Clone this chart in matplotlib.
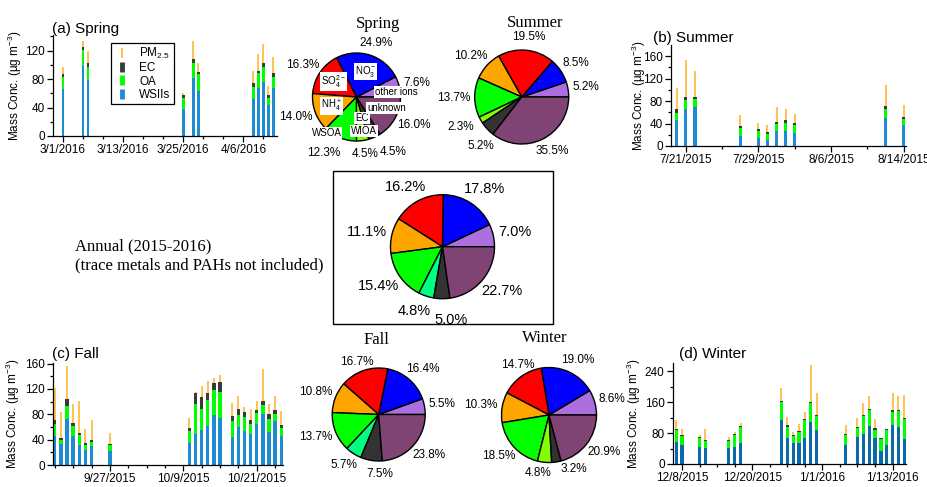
import numpy as np
import pandas as pd
import matplotlib
matplotlib.use('Agg')
import matplotlib.pyplot as plt
import matplotlib.dates as mdates
from matplotlib.lines import Line2D
from matplotlib.patches import Rectangle

plt.rcParams['font.family'] = ['Liberation Sans', 'DejaVu Sans']
plt.rcParams['mathtext.fontset'] = 'custom'
plt.rcParams['mathtext.rm'] = 'Liberation Sans'
plt.rcParams['mathtext.it'] = 'Liberation Sans:italic'
plt.rcParams['mathtext.bf'] = 'Liberation Sans:bold'

# daily mass concentrations (ug m-3)
spring_dates = ['2016-03-01', '2016-03-05', '2016-03-06', '2016-03-25', '2016-03-27', '2016-03-28',
                '2016-04-08', '2016-04-09', '2016-04-10', '2016-04-11', '2016-04-12']
spring_wsii = [66, 98, 79, 38, 81, 63, 52, 67, 76, 43, 67]
spring_oa = [17, 22.5, 18, 15.5, 22, 24, 17, 21, 21, 10.5, 16]
spring_ec = [4, 4.1, 5, 3.5, 5, 3.5, 5, 4, 6, 3.5, 5]
spring_pm = [97, 134, 120, 61, 134, 102.5, 92, 115, 129, 70, 111]
spring_ticks = ['3/1/2016', '3/13/2016', '3/25/2016', '4/6/2016']

summer_dates = ['2015-07-20', '2015-07-21', '2015-07-22', '2015-07-27', '2015-07-29', '2015-07-30',
                '2015-07-31', '2015-08-01', '2015-08-02', '2015-08-12', '2015-08-14']
summer_wsii = [46.4, 66.6, 69.6, 18.4, 14.9, 11.3, 27.4, 27.4, 23.8, 50.6, 36.9]
summer_oa = [12.6, 14.9, 13.7, 13.1, 11.9, 10.7, 11.3, 13.6, 13.1, 14.8, 10.7]
summer_ec = [6.4, 5.4, 4.7, 4.8, 4.2, 3.6, 4.1, 4.8, 4.1, 5.4, 4.2]
summer_pm = [104, 153, 134, 54.7, 41, 38, 69.6, 65.4, 57.7, 108, 72.6]
summer_ticks = ['7/21/2015', '7/29/2015', '8/6/2015', '8/14/2015']

fall_dates = ['2015-09-18', '2015-09-19', '2015-09-20', '2015-09-21', '2015-09-22', '2015-09-23',
              '2015-09-24', '2015-09-27', '2015-10-10', '2015-10-11', '2015-10-12', '2015-10-13',
              '2015-10-14', '2015-10-15', '2015-10-17', '2015-10-18', '2015-10-19', '2015-10-20',
              '2015-10-21', '2015-10-22', '2015-10-23', '2015-10-24', '2015-10-25']
fall_wsii = [46.3, 32.6, 72.6, 45.3, 31, 24.2, 30, 22.6, 34.2, 49, 55.3, 61.6,
             79, 74.7, 44.2, 59.5, 53.7, 49, 64.2, 81, 52, 69.5, 45.3]
fall_oa = [19, 7.4, 20, 15.7, 15.8, 6.8, 5.8, 9.4, 18.8, 47.3, 32.7, 41.4,
           39.4, 40, 24.8, 20, 22.1, 15.7, 17.4, 14.3, 20.6, 10.5, 13.7]
fall_ec = [5.2, 3, 11.1, 4.8, 3.2, 3.7, 3.7, 1.7, 6, 17.7, 18.8, 10.7,
           10.6, 16.3, 8.4, 8.5, 7.9, 6.9, 4.7, 6.3, 7.4, 6.3, 4.7]
fall_pm = [122, 83, 157, 96.8, 100.5, 57.4, 70.5, 50, 74.7, 115.8, 124, 132,
           138, 141.6, 97.4, 108.4, 91, 87.9, 101, 152, 96.3, 108.4, 84.7]
fall_ticks = ['9/27/2015', '10/9/2015', '10/21/2015']

winter_dates = ['2015-12-07', '2015-12-08', '2015-12-11', '2015-12-12', '2015-12-16', '2015-12-17',
                '2015-12-18', '2015-12-25', '2015-12-26', '2015-12-27', '2015-12-28', '2015-12-29',
                '2015-12-30', '2015-12-31', '2016-01-05', '2016-01-07', '2016-01-08', '2016-01-09',
                '2016-01-10', '2016-01-11', '2016-01-12', '2016-01-13', '2016-01-14', '2016-01-15']
winter_wsii = [57, 49.4, 44, 40.7, 40.7, 45, 54.6, 113.5, 67.6, 54.6, 54.6, 67.6,
               109.2, 89.3, 48.5, 70.2, 78, 98, 67.6, 34.7, 48.5, 102.3, 95.3, 64.1]
winter_oa = [32, 23.4, 22.7, 20, 20, 30.4, 41.6, 46.8, 29.4, 18.2, 27.7, 45.9,
             48.5, 34.7, 26.9, 23.4, 46.8, 41.5, 21.7, 30.3, 39, 33.7, 41.7, 51.9]
winter_ec = [3, 2.6, 2.6, 2.6, 2.6, 2.6, 2.6, 3.5, 3.5, 3.5, 3.5, 3.5,
             3.5, 3.4, 2.6, 2.6, 3.4, 2.6, 3.4, 1.7, 2.5, 3.5, 3.4, 4.5]
winter_pm = [115, 92, 75.4, 91, 70, 83.2, 106.6, 198.4, 122.2, 83.2, 104.9, 135.2,
             255.6, 184.6, 101.4, 118.7, 157.7, 176.8, 117.9, 66.7, 90, 184.6, 176, 178.5]
winter_ticks = ['12/8/2015', '12/20/2015', '1/1/2016', '1/13/2016']

# PM2.5 composition (%), counterclockwise from 3 o'clock
species = ['other ions', 'NO3', 'SO4', 'NH4', 'WSOA', 'WIOA', 'EC', 'unknown']
spring_pct = [7.6, 24.9, 16.3, 14.0, 12.3, 4.5, 4.5, 16.0]
summer_pct = [5.2, 8.5, 19.5, 10.2, 13.7, 2.3, 5.2, 35.5]
fall_pct = [5.5, 16.4, 16.7, 10.8, 13.7, 5.7, 7.5, 23.8]
winter_pct = [8.6, 19.0, 14.7, 10.3, 18.5, 4.8, 3.2, 20.9]
annual_pct = [7.0, 17.8, 16.2, 11.1, 15.4, 4.8, 5.0, 22.7]

W, H = 928, 487
fig = plt.figure(figsize=(W / 100, H / 100), dpi=100)

PM_C = '#FFB634'
EC_C = '#3A3A3A'
OA_C = '#00FF00'


def px_rect(l, t, r, b):
    return [l / W, 1 - b / H, (r - l) / W, (b - t) / H]


def days(strings, fmt=None):
    return mdates.date2num(pd.to_datetime(strings, format=fmt).to_pydatetime())


def bar_panel(rect, dates, wsii, oa, ec, pm, ticks, xlim, step, ymax, ystep, yminor,
              wsii_color, width, title, title_xy, ylab_x):
    ax = fig.add_axes(px_rect(*rect))
    x = days(dates)
    wsii = np.array(wsii)
    oa = np.array(oa)
    ec = np.array(ec)
    ax.vlines(x, 0, pm, color=PM_C, lw=1.2, zorder=1)
    ax.bar(x, wsii, width=width, color=wsii_color, zorder=2)
    ax.bar(x, oa, width=width, bottom=wsii, color=OA_C, zorder=2)
    ax.bar(x, ec, width=width, bottom=wsii + oa, color=EC_C, zorder=2)

    lo, hi = days(xlim)
    major = days(ticks, '%m/%d/%Y')
    minor = np.arange(major[0] - 20 * step, major[-1] + 20 * step, step)
    ax.set_xlim(lo, hi)
    ax.set_xticks(major)
    ax.set_xticklabels(ticks)
    ax.set_xticks(minor[(minor >= lo) & (minor <= hi)], minor=True)
    ax.set_ylim(0, ymax)
    ax.set_yticks(np.arange(0, ymax, ystep))
    ax.set_yticks(np.arange(0, ymax, yminor), minor=True)

    for s in ['top', 'right']:
        ax.spines[s].set_visible(False)
    for s in ['left', 'bottom']:
        ax.spines[s].set_linewidth(0.9)
    ax.tick_params(which='both', direction='out', labelsize=8.5, width=0.9, pad=2)
    ax.tick_params(which='major', length=4)
    ax.tick_params(which='minor', length=2.5)
    ax.set_ylabel('Mass Conc. (µg m$^{-3}$)', fontsize=8.5)
    # label anchor is the right-hand side of the rotated text
    ax.yaxis.set_label_coords((ylab_x - rect[0]) / (rect[2] - rect[0]), 0.5)
    fig.text(title_xy[0] / W, 1 - title_xy[1] / H, title, fontsize=11, va='baseline')
    return ax


ax_a = bar_panel((53, 35, 277, 136), spring_dates, spring_wsii, spring_oa, spring_ec, spring_pm,
                 spring_ticks, ['2016-02-28 00:00', '2016-04-12 17:00'], 4, 142, 40, 20,
                 '#1E8CD4', 0.55, '(a) Spring', (52, 33), 24)
ax_b = bar_panel((671, 45, 906, 146), summer_dates, summer_wsii, summer_oa, summer_ec, summer_pm,
                 summer_ticks, ['2015-07-19 09:00', '2015-08-14 06:00'], 4, 180, 40, 20,
                 '#1E8CD4', 0.37, '(b) Summer', (653, 42), 648)
ax_c = bar_panel((53, 363, 283, 465), fall_dates, fall_wsii, fall_oa, fall_ec, fall_pm,
                 fall_ticks, ['2015-09-17 17:00', '2015-10-25 07:00'], 3, 161, 40, 20,
                 '#1E8CD4', 0.56, '(c) Fall', (52, 358), 22)
ax_d = bar_panel((673, 363, 906, 464), winter_dates, winter_wsii, winter_oa, winter_ec, winter_pm,
                 winter_ticks, ['2015-12-06 11:00', '2016-01-15 07:00'], 3, 262, 80, 40,
                 '#0A69AA', 0.56, '(d) Winter', (679, 358), 643)

handles = [Line2D([], [], ls='none', marker='|', ms=7, mew=1.2, color=PM_C),
           Line2D([], [], ls='none', marker='|', ms=7, mew=3.5, color=EC_C),
           Line2D([], [], ls='none', marker='|', ms=7, mew=3.5, color=OA_C),
           Line2D([], [], ls='none', marker='|', ms=7, mew=3.5, color='#1E8CD4')]
leg = ax_a.legend(handles, ['PM$_{2.5}$', 'EC', 'OA', 'WSIIs'], loc='upper left',
                  bbox_to_anchor=(0.259, 0.925), fontsize=8.5, fancybox=False, framealpha=1,
                  edgecolor='black', borderpad=0.3, handlelength=1.2, handletextpad=0.9,
                  labelspacing=0.1, borderaxespad=0)
leg.get_frame().set_linewidth(0.9)

# composition pies
BASE_COLORS = ['#AC6FE0', '#0000FF', '#FF0000', '#FFA500', '#00FF00', None, '#333333', '#804474']


def char_width(s):
    w = 0.0
    for c in s:
        w += {'.': 0.278, '%': 0.889}.get(c, 0.556)
    return w


def pie_panel(cx, cy, r, pct, wioa_color, fs, nudges=None, title=None, title_xy=None):
    pad = 1.03
    ax = fig.add_axes(px_rect(cx - r * pad, cy - r * pad, cx + r * pad, cy + r * pad))
    colors = list(BASE_COLORS)
    colors[5] = wioa_color
    wedges, _ = ax.pie(pct, colors=colors, startangle=0, counterclock=True,
                       wedgeprops=dict(edgecolor='black', linewidth=1.0))
    ax.set_xlim(-pad, pad)
    ax.set_ylim(-pad, pad)
    ax.set_aspect('equal')
    ax.axis('off')
    nudges = nudges or {}
    em = fs * 100 / 72 / r
    for i, (w, v) in enumerate(zip(wedges, pct)):
        th = np.deg2rad((w.theta1 + w.theta2) / 2)
        s = f'{v:.1f}%'
        hw = 0.5 * char_width(s) * em
        hh = 0.2 * fs / 8.5 * 44 / r
        tx = 1.1 * np.cos(th) + hw * np.cos(th)
        ty = 1.1 * np.sin(th) + hh * np.sin(th)
        dx, dy = nudges.get(i, (0, 0))
        ax.text(tx + dx, ty + dy, s, ha='center', va='center', fontsize=fs)
    if title:
        fig.text(title_xy[0] / W, 1 - title_xy[1] / H, title, ha='center', va='baseline',
                 fontsize=12, family=['Liberation Serif', 'DejaVu Serif'])
    return ax


ax_sp = pie_panel(356.5, 97, 44, spring_pct, '#80FF00', 8.5,
                  nudges={4: (-0.2, -0.07), 6: (0.26, -0.06)}, title='Spring', title_xy=(378, 28))
ax_su = pie_panel(521.7, 97, 47, summer_pct, '#80FF00', 8.5,
                  nudges={5: (-0.1, 0), 6: (0.14, -0.16)}, title='Summer', title_xy=(535, 27))
pie_panel(378.7, 414.5, 46.5, fall_pct, '#00FF80', 8.5,
          nudges={2: (0, -0.1), 6: (0.25, 0)}, title='Fall', title_xy=(376, 344))
pie_panel(549, 415, 47.5, winter_pct, '#80FF00', 8.5,
          nudges={2: (0.2, 0), 5: (-0.1, 0.05), 6: (0.31, 0.14)}, title='Winter', title_xy=(545, 342))
pie_panel(442.5, 246.7, 52, annual_pct, '#00FF80', 10.5,
          nudges={5: (-0.1, 0), 6: (0.18, -0.1)})

# species names inside the spring pie
inner = [('other ions', 0.91, 0.12), ('NO$_3^-$', 0.21, 0.58), ('SO$_4^{2-}$', -0.53, 0.35),
         ('NH$_4^+$', -0.56, -0.21), ('WSOA', -0.68, -0.82), ('WIOA', 0.17, -0.77),
         ('EC', 0.13, -0.48), ('unknown', 0.68, -0.26)]
for s, x, y in inner:
    ax_sp.text(x, y, s, ha='center', va='center', fontsize=7,
               bbox=dict(boxstyle='square,pad=0.1', fc='white', ec='none'))

# frame round the annual pie
fig.patches.append(Rectangle((332.7 / W, 1 - 324 / H), 220 / W, 153.3 / H, transform=fig.transFigure,
                             fill=False, ec='black', lw=1.0))
fig.text(75 / W, 1 - 250 / H, 'Annual (2015-2016)', fontsize=12, va='baseline',
         family=['Liberation Serif', 'DejaVu Serif'])
fig.text(75 / W, 1 - 269 / H, '(trace metals and PAHs not included)', fontsize=12, va='baseline',
         family=['Liberation Serif', 'DejaVu Serif'])

fig.savefig('out.png', dpi=100)
